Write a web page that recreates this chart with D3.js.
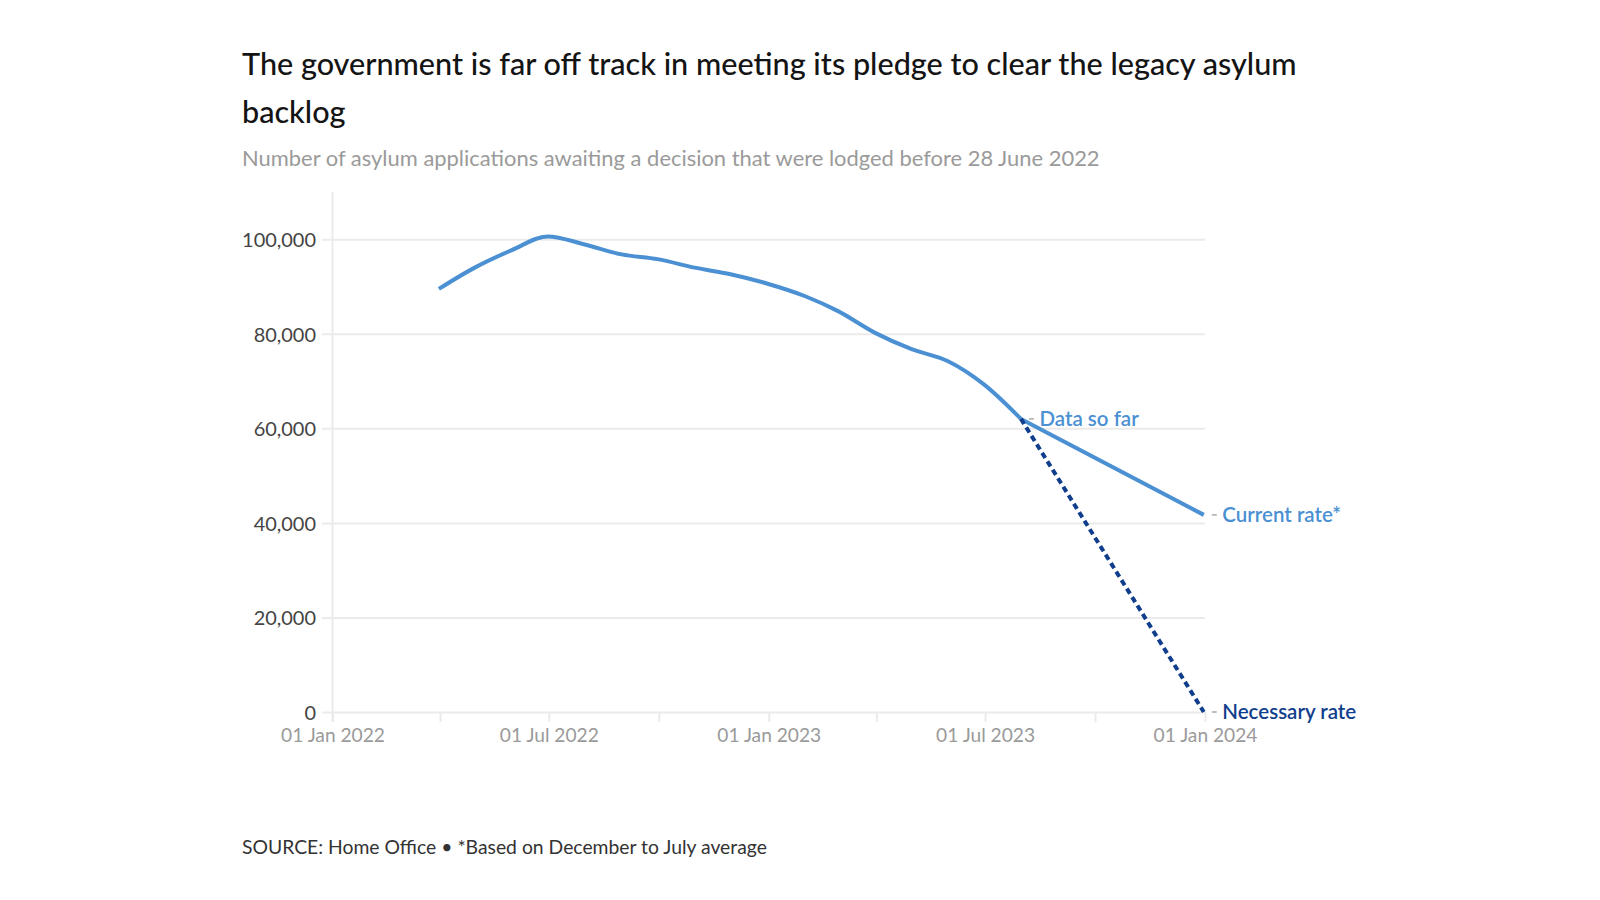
<!DOCTYPE html>
<html>
<head>
<meta charset="utf-8">
<script src="https://cdn.jsdelivr.net/npm/d3@7"></script>
<style>
  html, body { margin: 0; padding: 0; background: #ffffff; }
  svg { display: block; }
  text { font-family: Lato, "Noto Sans", sans-serif; }
</style>
</head>
<body>
<svg id="chart" width="1600" height="900"></svg>
<script>
// ---------------- data ----------------
const titleLines = [
  "The government is far off track in meeting its pledge to clear the legacy asylum",
  "backlog"
];
const subtitle = "Number of asylum applications awaiting a decision that were lodged before 28 June 2022";
const footer = "SOURCE: Home Office \u2022 *Based on December to July average";

const dates = ["2022-03-31","2022-04-30","2022-05-31","2022-06-30","2022-07-31","2022-08-31",
               "2022-09-30","2022-10-31","2022-11-30","2022-12-31","2023-01-31","2023-02-28",
               "2023-03-31","2023-04-30","2023-05-31","2023-06-30","2023-07-31"];
const backlog = [89500, 94000, 97700, 100600, 98900, 96800,
                 95800, 94000, 92600, 90600, 88000, 84800,
                 80200, 76800, 74200, 69300, 62000];

const currentRateDates = ["2023-07-31", "2023-12-31"];
const currentRate = [62000, 41700];
const necessaryRateDates = ["2023-07-31", "2023-12-31"];
const necessaryRate = [62000, 0];

const seriesLabels = ["Data so far", "Current rate*", "Necessary rate"];

const yTicks = [0, 20000, 40000, 60000, 80000, 100000];
const yTickLabels = ["0", "20,000", "40,000", "60,000", "80,000", "100,000"];
const xTickDates = ["2022-01-01","2022-04-01","2022-07-01","2022-10-01","2023-01-01",
                    "2023-04-01","2023-07-01","2023-10-01","2024-01-01"];
const xTickLabels = ["01 Jan 2022","","01 Jul 2022","","01 Jan 2023","","01 Jul 2023","","01 Jan 2024"];
const xDomain = ["2022-01-01", "2024-01-01"];
const yDomain = [0, 110000];

// ---------------- drawing ----------------
function fit(sel, target) {
  const w = sel.node().getComputedTextLength();
  const fs = parseFloat(sel.attr("font-size"));
  const nfs = fs * target / w;
  sel.attr("font-size", nfs);
  return nfs;
}

function draw() {
  const parse = d3.timeParse("%Y-%m-%d");
  const svg = d3.select("#chart");

  const plotLeft = 332.5, plotRight = 1205, plotTop = 192, plotBottom = 712;
  const COL_BLUE = "#4a90d2", COL_NAVY = "#103e8c", COL_GRID = "#ebebeb";

  const x = d3.scaleTime().domain(xDomain.map(parse)).range([plotLeft, plotRight]);
  const y = d3.scaleLinear().domain(yDomain).range([plotBottom, plotTop]);

  // Title
  const t1 = svg.append("text").attr("x", 242).attr("y", 75)
    .attr("font-size", 29).attr("font-weight", 500).attr("fill", "#141414")
    .text(titleLines[0]);
  const tfs = fit(t1, 1055);
  svg.append("text").attr("x", 242).attr("y", 123)
    .attr("font-size", tfs).attr("font-weight", 500).attr("fill", "#141414")
    .text(titleLines[1]);

  // Subtitle
  const st = svg.append("text").attr("x", 242).attr("y", 166)
    .attr("font-size", 20).attr("fill", "#9a9a9a").text(subtitle);
  fit(st, 858);

  // Footer
  const ft = svg.append("text").attr("x", 242).attr("y", 854)
    .attr("font-size", 19).attr("fill", "#333333").text(footer);
  fit(ft, 525);

  // Y axis with gridlines
  const tickLen = 10.5;
  const yAxis = d3.axisLeft(y).tickValues(yTicks)
    .tickSize(-(plotRight - plotLeft + tickLen)).tickPadding(6)
    .tickFormat((d, i) => yTickLabels[i]);
  const gy = svg.append("g").attr("transform", `translate(${plotLeft - tickLen},0)`).call(yAxis);
  gy.select(".domain").remove();
  gy.selectAll(".tick line").attr("stroke", COL_GRID).attr("stroke-width", 2);
  gy.selectAll(".tick text").attr("fill", "#444444").attr("font-size", 18)
    .attr("dy", "0.36em")
    .attr("font-family", "Lato, 'Noto Sans', sans-serif");
  const yl = gy.selectAll(".tick text").filter((d) => d === 100000);
  const yfs = fit(yl, 74);
  gy.selectAll(".tick text").attr("font-size", yfs);

  // Vertical axis line
  svg.append("line")
    .attr("x1", plotLeft).attr("x2", plotLeft)
    .attr("y1", plotTop).attr("y2", plotBottom + 10)
    .attr("stroke", COL_GRID).attr("stroke-width", 2);

  // X axis
  const xAxis = d3.axisBottom(x).tickValues(xTickDates.map(parse))
    .tickSize(10).tickPadding(6)
    .tickFormat((d, i) => xTickLabels[i]);
  const gx = svg.append("g").attr("transform", `translate(0,${plotBottom})`).call(xAxis);
  gx.select(".domain").remove();
  gx.selectAll(".tick line").attr("stroke", COL_GRID).attr("stroke-width", 2);
  gx.selectAll(".tick text").attr("fill", "#9a9a9a").attr("font-size", 18)
    .attr("font-family", "Lato, 'Noto Sans', sans-serif");
  const xl = gx.selectAll(".tick text").filter((d, i) => i === 0);
  const xfs = fit(xl, 104);
  gx.selectAll(".tick text").attr("font-size", xfs);

  // Lines
  const mainData = dates.map((d, i) => ({ date: parse(d), value: backlog[i] }));
  const curData = currentRateDates.map((d, i) => ({ date: parse(d), value: currentRate[i] }));
  const necData = necessaryRateDates.map((d, i) => ({ date: parse(d), value: necessaryRate[i] }));

  const smooth = d3.line().x(d => x(d.date)).y(d => y(d.value)).curve(d3.curveMonotoneX);
  const straight = d3.line().x(d => x(d.date)).y(d => y(d.value));

  svg.append("path").datum(curData).attr("d", straight)
    .attr("fill", "none").attr("stroke", COL_BLUE).attr("stroke-width", 4);
  svg.append("path").datum(mainData).attr("d", smooth)
    .attr("fill", "none").attr("stroke", COL_BLUE).attr("stroke-width", 4)
    .attr("stroke-linejoin", "round");
  svg.append("path").datum(necData).attr("d", straight)
    .attr("fill", "none").attr("stroke", COL_NAVY).attr("stroke-width", 4)
    .attr("stroke-dasharray", "6,4");

  // End labels
  const labelPts = [
    { p: mainData[mainData.length - 1], text: seriesLabels[0], color: COL_BLUE },
    { p: curData[curData.length - 1], text: seriesLabels[1], color: COL_BLUE },
    { p: necData[necData.length - 1], text: seriesLabels[2], color: COL_NAVY }
  ];
  const lg = svg.append("g");
  labelPts.forEach(l => {
    const px = x(l.p.date), py = y(l.p.value);
    lg.append("line").attr("x1", px + 8).attr("x2", px + 13)
      .attr("y1", py).attr("y2", py)
      .attr("stroke", "#aaaaaa").attr("stroke-width", 1.5);
    l.node = lg.append("text").attr("x", px + 18.5).attr("y", py)
      .attr("dy", "0.35em").attr("font-size", 18).attr("font-weight", 600)
      .attr("fill", l.color).text(l.text);
  });
  const lfs = fit(labelPts[2].node, 134);
  labelPts.forEach(l => l.node.attr("font-size", lfs));
}

if (document.fonts && document.fonts.ready) {
  document.fonts.ready.then(draw);
} else {
  draw();
}
</script>
</body>
</html>
